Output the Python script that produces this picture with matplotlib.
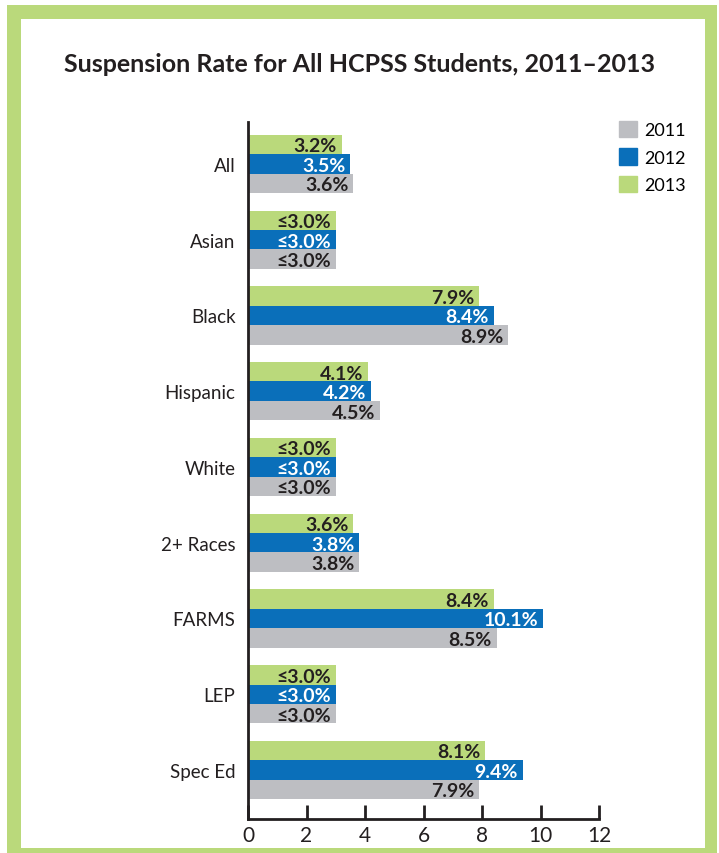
import matplotlib.pyplot as plt
from matplotlib.patches import Rectangle

# Data
categories = ['All', 'Asian', 'Black', 'Hispanic', 'White', '2+ Races', 'FARMS', 'LEP', 'Spec Ed']
years = ['2011', '2012', '2013']
rate_2011 = [3.6, 3.0, 8.9, 4.5, 3.0, 3.8, 8.5, 3.0, 7.9]
rate_2012 = [3.5, 3.0, 8.4, 4.2, 3.0, 3.8, 10.1, 3.0, 9.4]
rate_2013 = [3.2, 3.0, 7.9, 4.1, 3.0, 3.6, 8.4, 3.0, 8.1]
labels_2011 = ['3.6%', '≤3.0%', '8.9%', '4.5%', '≤3.0%', '3.8%', '8.5%', '≤3.0%', '7.9%']
labels_2012 = ['3.5%', '≤3.0%', '8.4%', '4.2%', '≤3.0%', '3.8%', '10.1%', '≤3.0%', '9.4%']
labels_2013 = ['3.2%', '≤3.0%', '7.9%', '4.1%', '≤3.0%', '3.6%', '8.4%', '≤3.0%', '8.1%']

c_gray = '#bdbec2'
c_blue = '#0a6fba'
c_green = '#bad97b'
txt_dark = '#231f20'

plt.rcParams['font.family'] = ['Lato', 'DejaVu Sans']

W, H = 719, 854
fig = plt.figure(figsize=(W / 100, H / 100), dpi=100)

# green frame
fig.patches.append(Rectangle((7 / W, 0), 710 / W, 848 / H, transform=fig.transFigure,
                             facecolor=c_green, edgecolor='none', zorder=-10))
fig.patches.append(Rectangle((21 / W, 5 / H), 684 / W, 829 / H, transform=fig.transFigure,
                             facecolor='white', edgecolor='none', zorder=-9))

ax = fig.add_axes([248 / W, 34 / H, 351 / W, 697 / H])
ax.patch.set_alpha(0)

h = 0.257
y = list(range(len(categories)))
series = [(rate_2013, labels_2013, c_green, txt_dark, -h),
          (rate_2012, labels_2012, c_blue, 'white', 0),
          (rate_2011, labels_2011, c_gray, txt_dark, h)]
for vals, labs, col, tcol, off in series:
    pos = [yy + off for yy in y]
    ax.barh(pos, vals, height=h, color=col, edgecolor='none', zorder=2)
    for p, v, lab in zip(pos, vals, labs):
        ax.annotate(lab, (v, p), xytext=(-3.5, -1), textcoords='offset points',
                    ha='right', va='center', fontsize=14, fontweight='bold', color=tcol)

ax.set_ylim(len(categories) - 1 + 0.647, -0.554)
ax.set_xlim(0, 12)
ax.set_yticks(y)
ax.set_yticklabels(categories, fontsize=13.5, color=txt_dark)
ax.tick_params(axis='y', length=0, pad=9)
ax.set_xticks(range(0, 13, 2))
ax.tick_params(axis='x', direction='in', length=10, width=2, color='#231f20',
               labelsize=15, labelcolor=txt_dark, pad=4)
for s in ['top', 'right']:
    ax.spines[s].set_visible(False)
for s in ['left', 'bottom']:
    ax.spines[s].set_linewidth(2)
    ax.spines[s].set_color('#231f20')

# legend
handles = [Rectangle((0, 0), 1, 1, color=c) for c in (c_gray, c_blue, c_green)]
fig.legend(handles, years, loc='upper left', bbox_to_anchor=(612 / W, 1 - 115 / H),
           frameon=False, fontsize=13, handlelength=1.0, handleheight=1.0,
           handletextpad=0.4, labelspacing=0.55, borderaxespad=0)

fig.text(0.5, 1 - 65 / H, 'Suspension Rate for All HCPSS Students, 2011–2013',
         ha='center', va='center', fontsize=18, fontweight='bold', color=txt_dark)

fig.savefig('out.png', dpi=100)
